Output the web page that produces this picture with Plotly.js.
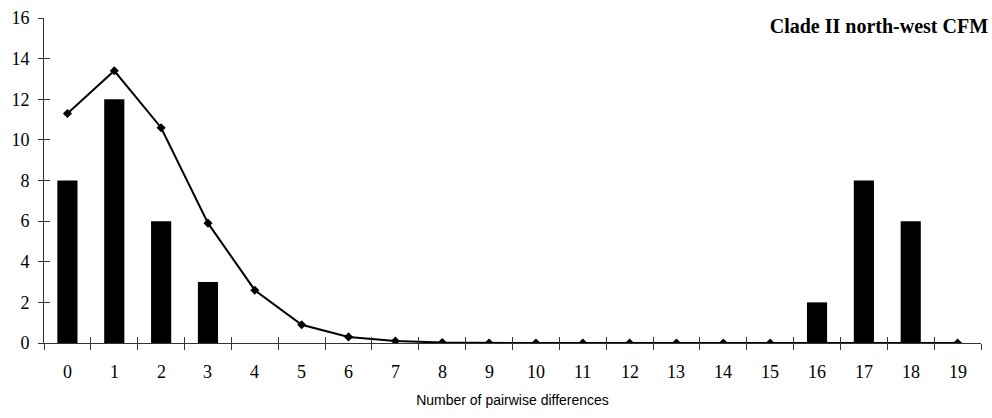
<!DOCTYPE html>
<html>
<head>
<meta charset="utf-8">
<script src="https://cdn.plot.ly/plotly-3.0.1.min.js"></script>
<style>html,body{margin:0;padding:0;background:#fff;}#chart{width:992px;height:418px;}</style>
</head>
<body>
<div id="chart"></div>
<script>
const categories = [0,1,2,3,4,5,6,7,8,9,10,11,12,13,14,15,16,17,18,19];
const observed = [8,12,6,3,0,0,0,0,0,0,0,0,0,0,0,0,2,8,6,0];
const expected = [11.3,13.4,10.6,5.9,2.6,0.9,0.3,0.1,0.02,0,0,0,0,0,0,0,0,0,0,0];
const tickLabels = categories.map(String);
const boundaries = categories.map(c => c - 0.5).concat([categories.length - 0.5]);
const yTicks = [0,2,4,6,8,10,12,14,16];

const serif = {family: '"Liberation Serif", "Times New Roman", serif', size: 18, color: '#000'};

const traces = [
  {type: 'bar', x: categories, y: observed, marker: {color: '#000'}, hoverinfo: 'skip'},
  {type: 'scatter', mode: 'lines+markers', x: categories, y: expected,
   line: {color: '#000', width: 2}, marker: {symbol: 'diamond', size: 7, color: '#000'}},
  {type: 'scatter', x: [0], y: [0], xaxis: 'x2', yaxis: 'y2', mode: 'markers', marker: {opacity: 0}, hoverinfo: 'skip'}
];

const layout = {
  width: 992, height: 418,
  margin: {l: 44, r: 11, t: 18, b: 75},
  paper_bgcolor: '#fff', plot_bgcolor: '#fff',
  showlegend: false,
  bargap: 0.57,
  font: serif,
  title: {text: '<b>Clade II north-west CFM</b>', x: 0.996, xanchor: 'right', xref: 'container', y: 0.937, yanchor: 'middle', yref: 'container',
          font: {family: '"Liberation Serif", "Times New Roman", serif', size: 20, color: '#000'}},
  xaxis: {
    range: [-0.5, 19.5], tickmode: 'array', tickvals: boundaries, ticktext: boundaries.map(() => ''),
    ticks: 'outside', ticklen: 6, tickcolor: '#333', tickwidth: 1,
    showline: true, linecolor: '#333', linewidth: 1, showgrid: false, zeroline: false,
    title: {text: 'Number of pairwise differences', standoff: 42, font: {family: '"Liberation Sans", Arial, sans-serif', size: 14, color: '#000'}}
  },
  yaxis: {
    range: [0, 16], tickmode: 'array', tickvals: yTicks,
    ticks: 'outside', ticklen: 5, tickcolor: '#333', tickwidth: 1,
    showline: true, linecolor: '#333', linewidth: 1, showgrid: false, zeroline: false,
    tickfont: serif, ticklabelstandoff: 5
  },
  xaxis2: {
    overlaying: 'x', anchor: 'y', side: 'bottom', range: [-0.5, 19.5],
    tickmode: 'array', tickvals: boundaries, ticks: 'inside', ticklen: 6, tickcolor: '#333', tickwidth: 1,
    showticklabels: false, showgrid: false, zeroline: false, showline: false
  },
  yaxis2: {
    overlaying: 'y', anchor: 'x', side: 'left', range: [0, 16],
    tickmode: 'array', tickvals: yTicks, ticks: 'inside', ticklen: 6, tickcolor: '#333', tickwidth: 1,
    showticklabels: false, showgrid: false, zeroline: false, showline: false
  },
  annotations: categories.map((c, i) => ({
    x: c, y: 0, xref: 'x', yref: 'y', yshift: -29, text: tickLabels[i], showarrow: false,
    font: serif, xanchor: 'center', yanchor: 'middle'
  }))
};

Plotly.newPlot('chart', traces, layout, {displayModeBar: false, staticPlot: true});
</script>
</body>
</html>
